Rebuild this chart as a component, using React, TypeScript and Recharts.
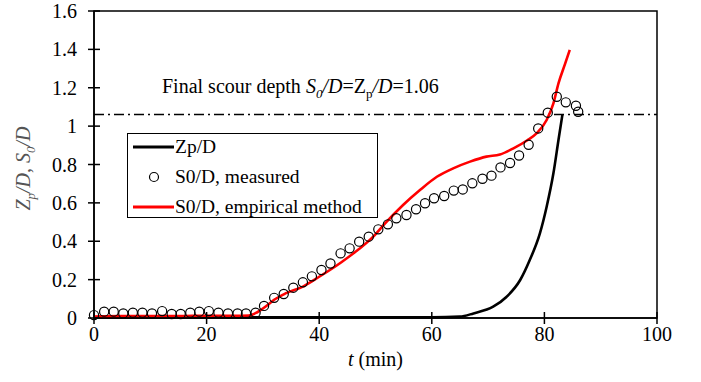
import React from 'react';
import { ComposedChart, Line, Scatter, XAxis, YAxis, ReferenceLine, ReferenceArea } from 'recharts';

const xTicks = [0, 20, 40, 60, 80, 100];
const yTicks = [0, 0.2, 0.4, 0.6, 0.8, 1.0, 1.2, 1.4, 1.6];

const tMeasured = [0, 1.8, 3.5, 5.2, 6.9, 8.6, 10.3, 12.1, 13.8, 15.4, 17.1, 18.7, 20.4, 22.1, 23.8, 25.5, 27.0, 28.7, 30.2, 32.0, 33.7, 35.4, 37.1, 38.7, 40.4, 42.0, 43.8, 45.4, 47.1, 48.8, 50.5, 52.2, 53.7, 55.5, 57.2, 58.8, 60.4, 62.2, 63.9, 65.5, 67.2, 69.0, 70.6, 72.2, 73.9, 75.5, 77.2, 78.9, 80.6, 82.2, 83.8, 85.6, 86.0];
const sMeasured = [0.015, 0.033, 0.033, 0.024, 0.028, 0.028, 0.024, 0.036, 0.021, 0.021, 0.028, 0.033, 0.036, 0.028, 0.024, 0.024, 0.024, 0.028, 0.063, 0.105, 0.125, 0.158, 0.186, 0.217, 0.25, 0.284, 0.337, 0.363, 0.398, 0.424, 0.462, 0.488, 0.52, 0.537, 0.567, 0.598, 0.624, 0.636, 0.664, 0.67, 0.702, 0.726, 0.742, 0.785, 0.808, 0.847, 0.903, 0.988, 1.07, 1.153, 1.124, 1.106, 1.075];

const tEmpirical = [0, 5, 10, 15, 20, 25, 27.5, 29, 30.5, 32, 34, 37.2, 40, 41.9, 44, 46.1, 49.6, 51.7, 54.9, 57.9, 60.9, 63.8, 66.8, 69.7, 72.1, 74.5, 76.9, 78.6, 80.4, 81.6, 82.5, 83.7, 84.5];
const sEmpirical = [0.008, 0.01, 0.01, 0.01, 0.012, 0.012, 0.013, 0.03, 0.06, 0.095, 0.128, 0.165, 0.215, 0.25, 0.292, 0.337, 0.424, 0.493, 0.589, 0.667, 0.736, 0.78, 0.815, 0.841, 0.852, 0.884, 0.925, 0.962, 1.032, 1.119, 1.223, 1.327, 1.397];

const tZp = [0, 20, 40, 60, 65, 67.4, 70.9, 73.3, 75.7, 77.4, 79.2, 80.4, 81.6, 82.5, 83.2];
const zZp = [0.003, 0.003, 0.003, 0.003, 0.007, 0.024, 0.059, 0.111, 0.198, 0.302, 0.441, 0.58, 0.754, 0.928, 1.06];

const finalDepth = 1.06;

const measuredData = tMeasured.map((t, i) => ({ t, v: sMeasured[i] }));
const empiricalData = tEmpirical.map((t, i) => ({ t, v: sEmpirical[i] }));
const zpData = tZp.map((t, i) => ({ t, v: zZp[i] }));

const FONT = 'Liberation Serif';
const TICK_FS = 20;

const fmtY = (v: number) => (v === 0 ? '0' : v === 1 ? '1' : v.toFixed(1));

const YTick = (props: any) => {
  const { x, y, payload } = props;
  const axisX = x + 5 + 12;
  return (
    <g>
      <line x1={axisX - 6} x2={axisX + 6} y1={y} y2={y} stroke="#000" strokeWidth={1.5} />
      <text x={x} y={y} dy="0.35em" textAnchor="end" fontFamily={FONT} fontSize={TICK_FS} fill="#000">
        {fmtY(payload.value)}
      </text>
    </g>
  );
};

const XTick = (props: any) => {
  const { x, y, payload } = props;
  const axisY = y - 5 - 4;
  return (
    <g>
      <line x1={x} x2={x} y1={axisY - 6} y2={axisY + 6} stroke="#000" strokeWidth={1.5} />
      <text x={x} y={y} dy="0.71em" textAnchor="middle" fontFamily={FONT} fontSize={TICK_FS} fill="#000">
        {payload.value}
      </text>
    </g>
  );
};

const YLabel = (props: any) => {
  const vb = props.viewBox || { x: 0, y: 11, width: 94, height: 307 };
  const cx = vb.x + 30;
  const cy = vb.y + vb.height / 2 + 4;
  return (
    <text
      x={cx}
      y={cy}
      transform={`rotate(-90, ${cx}, ${cy})`}
      textAnchor="middle"
      fontFamily={FONT}
      fontSize={20}
      fill="#555"
      fontStyle="italic"
    >
      <tspan>Z</tspan>
      <tspan dy="5" fontSize={13}>p</tspan>
      <tspan dy="-5">/D, S</tspan>
      <tspan dy="5" fontSize={13}>0</tspan>
      <tspan dy="-5">/D</tspan>
    </text>
  );
};

const XLabel = (props: any) => {
  const vb = props.viewBox || { x: 94, y: 318, width: 563, height: 64 };
  const cx = vb.x + vb.width / 2;
  return (
    <text x={cx} y={vb.y + 48} textAnchor="middle" fontFamily={FONT} fontSize={20} fill="#000">
      <tspan fontStyle="italic">t</tspan>
      <tspan> (min)</tspan>
    </text>
  );
};

const FinalLabel = (props: any) => {
  const vb = props.viewBox || { x: 94, y: 115 };
  return (
    <text x={vb.x + 68} y={vb.y - 22} fontFamily={FONT} fontSize={20} fill="#000">
      <tspan>Final scour depth </tspan>
      <tspan fontStyle="italic">S</tspan>
      <tspan dy="5" fontSize={13} fontStyle="italic">0</tspan>
      <tspan dy="-5" fontStyle="italic">/D</tspan>
      <tspan>=Z</tspan>
      <tspan dy="5" fontSize={13}>p</tspan>
      <tspan dy="-5" fontStyle="italic">/D</tspan>
      <tspan>={finalDepth.toFixed(2)}</tspan>
    </text>
  );
};

const legendItems = [
  { name: 'Zp/D', kind: 'line', color: '#000' },
  { name: 'S0/D, measured', kind: 'circle', color: '#000' },
  { name: 'S0/D, empirical method', kind: 'line', color: '#ff0000' },
];

const LegendBox = () => (
  <div
    style={{
      position: 'absolute',
      left: 127,
      top: 133,
      width: 251,
      height: 85,
      border: '1.5px solid #000',
      background: '#fff',
      boxSizing: 'border-box',
      fontFamily: FONT,
      fontSize: 19.5,
    }}
  >
    <div style={{ marginTop: -2 }}>
      {legendItems.map((it) => (
        <div key={it.name} style={{ display: 'flex', alignItems: 'center', height: 30 }}>
          <svg width={47} height={14} style={{ display: 'block' }}>
            {it.kind === 'line' ? (
              <line x1={5} x2={46} y1={7} y2={7} stroke={it.color} strokeWidth={3} />
            ) : (
              <circle cx={26} cy={7} r={4.5} fill="none" stroke="#000" strokeWidth={1.2} />
            )}
          </svg>
          <span style={{ marginLeft: 0, lineHeight: 1 }}>{it.name}</span>
        </div>
      ))}
    </div>
  </div>
);

const CircleShape = (props: any) => {
  const { cx, cy } = props;
  return <circle cx={cx} cy={cy} r={4.6} fill="none" stroke="#000" strokeWidth={1.2} />;
};

export default function App() {
  return (
    <div style={{ position: 'absolute', left: 0, top: 0, width: 701, height: 382, background: '#fff' }}>
      <ComposedChart width={701} height={382} margin={{ top: 11, right: 44, bottom: 0, left: 0 }}>
        <XAxis
          dataKey="t"
          type="number"
          domain={[0, 100]}
          ticks={xTicks}
          allowDuplicatedCategory={false}
          height={64}
          tickSize={5}
          tickMargin={4}
          tickLine={false}
          tick={<XTick />}
          axisLine={{ stroke: '#000', strokeWidth: 1.5 }}
          label={<XLabel />}
        />
        <YAxis
          type="number"
          domain={[0, 1.6]}
          ticks={yTicks}
          width={94}
          tickSize={5}
          tickMargin={12}
          tickLine={false}
          tick={<YTick />}
          axisLine={{ stroke: '#000', strokeWidth: 1.5 }}
          label={<YLabel />}
        />
        <ReferenceArea x1={0} x2={100} y1={0} y2={1.6} fill="none" stroke="#000" strokeWidth={1.5} ifOverflow="visible" />
        <ReferenceLine
          y={finalDepth}
          stroke="#000"
          strokeWidth={1.5}
          strokeDasharray="10 4 2 4"
          label={<FinalLabel />}
        />
        <Line
          data={zpData}
          dataKey="v"
          type="monotone"
          stroke="#000"
          strokeWidth={2.6}
          dot={false}
          isAnimationActive={false}
          name="Zp/D"
        />
        <Line
          data={empiricalData}
          dataKey="v"
          type="monotone"
          stroke="#ff0000"
          strokeWidth={2.6}
          dot={false}
          isAnimationActive={false}
          name="S0/D, empirical method"
        />
        <Scatter
          data={measuredData}
          dataKey="v"
          shape={<CircleShape />}
          isAnimationActive={false}
          name="S0/D, measured"
        />
      </ComposedChart>
      <LegendBox />
    </div>
  );
}
